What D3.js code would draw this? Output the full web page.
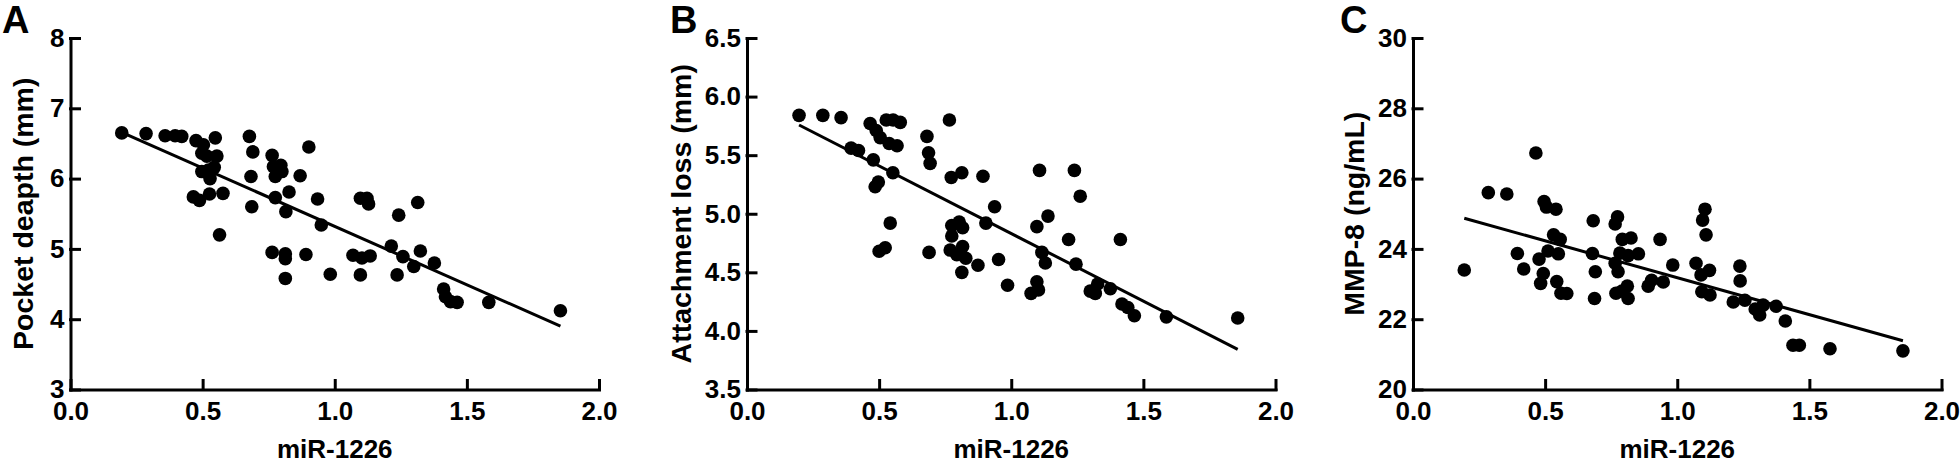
<!DOCTYPE html>
<html>
  <head>
    <meta charset="utf-8">
    <title>miR-1226 correlations</title>
    <script src="https://cdn.jsdelivr.net/npm/d3@7"></script>
    <style>
      body { margin: 0; background: #fff; }
      svg { display: block; font-family: "Liberation Sans", Arial, sans-serif; font-weight: bold; }
      .axis path, .axis line { stroke: #000; stroke-width: 3; stroke-linecap: square; }
      .axis text { font-size: 26px; font-weight: bold; fill: #000; font-family: "Liberation Sans", Arial, sans-serif; }
      .title { font-size: 26px; }
      .ytitle { font-size: 28.5px; }
      .letter { font-size: 38px; }
    </style>
  </head>

  <body>
    <svg id="chart" width="1960" height="465"></svg>

    <script>
      // data
      const xTitle = "miR-1226";

      const xA = [0.194,0.286,0.358,0.396,0.421,0.475,0.503,0.548,0.497,0.554,0.516,0.544,0.497,0.528,0.522,0.465,0.488,0.526,0.577,0.564,0.677,0.690,0.683,0.686,0.763,0.768,0.796,0.775,0.800,0.775,0.827,0.815,0.763,0.813,0.813,0.813,0.869,0.902,0.891,0.935,0.949,0.983,1.097,1.122,1.128,1.314,1.242,1.214,1.324,1.069,1.103,1.134,1.258,1.299,1.377,1.097,1.236,1.412,1.419,1.438,1.463,1.583,1.854];
      const pocketDepth = [6.65,6.64,6.61,6.61,6.60,6.54,6.48,6.58,6.36,6.32,6.32,6.16,6.10,6.00,6.12,5.74,5.69,5.78,5.79,5.20,6.60,6.38,6.03,5.60,6.33,6.17,6.19,6.03,6.10,5.73,5.81,5.53,4.95,4.93,4.86,4.58,6.04,6.45,4.92,5.71,5.34,4.64,5.72,5.72,5.64,5.66,5.48,5.04,4.97,4.91,4.87,4.90,4.89,4.75,4.80,4.63,4.63,4.43,4.32,4.25,4.24,4.24,4.12];

      const xB = [0.197,0.287,0.356,0.394,0.422,0.466,0.489,0.527,0.553,0.580,0.504,0.538,0.568,0.478,0.552,0.497,0.485,0.542,0.523,0.500,0.681,0.687,0.693,0.766,0.773,0.813,0.893,0.937,0.904,0.689,0.775,0.803,0.816,0.775,0.769,0.816,0.794,0.828,0.874,0.813,0.952,0.986,1.107,1.239,1.261,1.139,1.097,1.217,1.413,1.116,1.129,1.245,1.097,1.103,1.075,1.299,1.327,1.318,1.375,1.419,1.441,1.466,1.587,1.857];
      const attachmentLoss = [5.84,5.84,5.82,5.56,5.54,5.77,5.71,5.80,5.80,5.78,5.65,5.60,5.58,5.46,5.35,5.27,5.23,4.92,4.71,4.68,5.66,5.52,5.43,5.80,5.31,5.35,5.32,5.06,4.92,4.67,4.90,4.93,4.88,4.81,4.69,4.72,4.65,4.62,4.56,4.50,4.61,4.39,5.37,5.37,5.15,4.98,4.89,4.78,4.78,4.67,4.58,4.57,4.42,4.35,4.32,4.34,4.40,4.32,4.36,4.23,4.20,4.13,4.12,4.11];

      const xC = [0.194,0.285,0.355,0.465,0.395,0.419,0.496,0.505,0.541,0.532,0.557,0.511,0.477,0.550,0.493,0.483,0.544,0.560,0.582,0.682,0.679,0.690,0.687,0.774,0.765,0.792,0.825,0.783,0.814,0.765,0.776,0.811,0.768,0.814,0.791,0.853,0.935,0.983,0.890,0.903,0.947,1.105,1.096,1.109,1.071,1.090,1.122,1.093,1.124,1.237,1.238,1.212,1.256,1.295,1.312,1.325,1.374,1.409,1.438,1.462,1.578,1.854];
      const mmp8 = [23.40,25.60,25.56,26.73,23.87,23.43,25.35,25.19,25.13,24.40,24.27,23.94,23.71,23.86,23.30,23.02,23.07,22.74,22.73,24.80,23.87,23.35,22.59,24.91,24.71,24.27,24.31,23.88,23.81,23.59,23.35,22.94,22.74,22.59,22.80,23.86,24.27,23.54,22.94,23.11,23.06,25.13,24.82,24.40,23.59,23.26,23.39,22.78,22.69,23.51,23.09,22.49,22.54,22.29,22.12,22.40,22.37,21.95,21.26,21.26,21.16,21.10];

      // regression lines [intercept, slope]
      const fitA = [6.98, -1.66];
      const fitB = [5.985, -1.154];
      const fitC = [25.28, -2.10];

      // ticks
      const xTicks = [0, 0.5, 1.0, 1.5, 2.0];
      const yTicksA = [3, 4, 5, 6, 7, 8];
      const yTicksB = [3.5, 4.0, 4.5, 5.0, 5.5, 6.0, 6.5];
      const yTicksC = [20, 22, 24, 26, 28, 30];

      const panels = [
        { letter: "A", title: "Pocket deapth (mm)", x: xA, y: pocketDepth, fit: fitA, ticks: yTicksA, fmt: d3.format("d"), left: 70.5, titleX: 33, letterX: 2 },
        { letter: "B", title: "Attachment loss (mm)", x: xB, y: attachmentLoss, fit: fitB, ticks: yTicksB, fmt: d3.format(".1f"), left: 747, titleX: 691, letterX: 670 },
        { letter: "C", title: "MMP-8 (ng/mL)", x: xC, y: mmp8, fit: fitC, ticks: yTicksC, fmt: d3.format("d"), left: 1413, titleX: 1364, letterX: 1340 }
      ];

      const chart = d3.select("#chart");
      const plotTop = 38, plotBottom = 389.5, plotWidth = 528.5;
      const radius = 6.8;

      panels.forEach(p => {
        const x = d3.scaleLinear()
          .domain([0, 2])
          .range([p.left, p.left + plotWidth]);
        const y = d3.scaleLinear()
          .domain(d3.extent(p.ticks))
          .range([plotBottom, plotTop]);

        const g = chart.append("g");

        // axes, ticks pointing inward
        g.append("g")
          .attr("class", "axis")
          .attr("transform", "translate(0," + plotBottom + ")")
          .call(d3.axisBottom(x)
            .tickValues(xTicks)
            .tickFormat(d3.format(".1f"))
            .tickSizeInner(-9)
            .tickSizeOuter(0)
            .tickPadding(12));

        g.append("g")
          .attr("class", "axis")
          .attr("transform", "translate(" + p.left + ",0)")
          .call(d3.axisLeft(y)
            .tickValues(p.ticks)
            .tickFormat(p.fmt)
            .tickSizeInner(-9)
            .tickSizeOuter(0)
            .tickPadding(6));

        g.selectAll(".axis .domain").attr("fill", "none");
        g.selectAll(".axis text").attr("font-size", null).attr("font-family", null);

        // points
        g.selectAll(".dot")
          .data(d3.zip(p.x, p.y))
          .join("circle")
            .attr("class", "dot")
            .attr("cx", d => x(d[0]))
            .attr("cy", d => y(d[1]))
            .attr("r", radius)
            .attr("fill", "#000");

        // regression line over the data range
        const ext = d3.extent(p.x);
        g.append("line")
          .attr("x1", x(ext[0]))
          .attr("y1", y(p.fit[0] + p.fit[1] * ext[0]))
          .attr("x2", x(ext[1]))
          .attr("y2", y(p.fit[0] + p.fit[1] * ext[1]))
          .attr("stroke", "#000")
          .attr("stroke-width", 3);

        // titles
        g.append("text")
          .attr("class", "title")
          .attr("x", (x.range()[0] + x.range()[1]) / 2)
          .attr("y", 458)
          .attr("text-anchor", "middle")
          .text(xTitle);

        g.append("text")
          .attr("class", "ytitle")
          .attr("transform", "translate(" + p.titleX + "," + (plotTop + plotBottom) / 2 + ") rotate(-90)")
          .attr("text-anchor", "middle")
          .text(p.title);

        g.append("text")
          .attr("class", "letter")
          .attr("x", p.letterX)
          .attr("y", 33)
          .text(p.letter);
      });
    </script>
  </body>
</html>
